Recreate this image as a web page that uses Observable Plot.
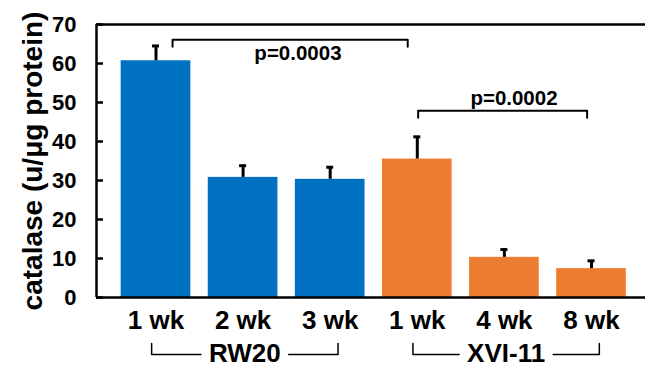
<!DOCTYPE html>
<html><head><meta charset="utf-8">
<script src="https://cdn.jsdelivr.net/npm/d3@7"></script>
<script src="https://cdn.jsdelivr.net/npm/@observablehq/plot@0.6"></script>
<style>
html,body{margin:0;padding:0;background:#fff;}
#chart svg{display:block;}
</style></head><body><div id="chart"></div>
<script>
// ---- data ----
const weeks = ["1 wk", "2 wk", "3 wk", "1 wk", "4 wk", "8 wk"];
const strains = ["RW20", "RW20", "RW20", "XVI-11", "XVI-11", "XVI-11"];
const catalase = [60.7, 30.8, 30.3, 35.5, 10.3, 7.4];
const errorTop = [64.5, 33.8, 33.4, 41.2, 12.3, 9.4];
const yTicks = [0, 10, 20, 30, 40, 50, 60, 70];
const groupNames = ["RW20", "XVI-11"];
const groupStart = [0, 3];
const groupEnd = [2, 5];
const groupColors = ["#0070C0", "#ED7D31"];
const pLabels = ["p=0.0003", "p=0.0002"];
const pFrom = [0.19, 3.01];
const pTo = [2.89, 4.95];
const pLevel = [66.1, 47.9];
const pLabelX = [1.63, 4.11];
const pLabelY = [62.7, 51.0];
const yTitle = "catalase (u/\u03bcg protein)";

// ---- layout ----
const W = 645, H = 367, mL = 96, mT = 24, mB = 70, mR = 0;
const xDomain = [-0.683, 5.62];
const pxPerUnit = (W - mL - mR) / (xDomain[1] - xDomain[0]);
const pxPerY = (H - mT - mB) / 70;
const FONT = "'Liberation Sans', Arial, Helvetica, sans-serif";

const bars = catalase.map((v, i) => ({i, v, hi: errorTop[i], strain: strains[i], week: weeks[i]}));

// p-value brackets
const pSeg = [];
pLabels.forEach((p, k) => {
  const drop = 7 / pxPerY;
  [[pFrom[k], pLevel[k] - drop], [pFrom[k], pLevel[k]], [pTo[k], pLevel[k]], [pTo[k], pLevel[k] - drop]]
    .forEach(([x, y]) => pSeg.push({k, x, y}));
});

// group brackets under axis
const ctx = document.createElement("canvas").getContext("2d");
ctx.font = `bold 26px ${FONT}`;
const gLineY = -(354 - (H - mB)) / pxPerY;
const gTickY = -(343 - (H - mB)) / pxPerY;
const gTextY = -(353 - (H - mB)) / pxPerY;
const gSeg = [], gText = [];
groupNames.forEach((g, k) => {
  const a = groupStart[k] - 0.05, b = groupEnd[k] + 0.09;
  const c = (a + b) / 2;
  const gap = (ctx.measureText(g).width / 2 + 8) / pxPerUnit;
  [[a, gTickY], [a, gLineY], [c - gap, gLineY]].forEach(([x, y]) => gSeg.push({z: g + "L", x, y}));
  [[c + gap, gLineY], [b, gLineY], [b, gTickY]].forEach(([x, y]) => gSeg.push({z: g + "R", x, y}));
  gText.push({x: c, y: gTextY, t: g});
});

const chart = Plot.plot({
  width: W, height: H,
  marginLeft: mL, marginRight: mR, marginTop: mT, marginBottom: mB,
  style: {fontFamily: FONT, color: "#000", background: "#fff"},
  x: {domain: xDomain},
  y: {domain: [0, 70]},
  color: {domain: groupNames, range: groupColors},
  marks: [
    Plot.rectY(bars, {x1: d => d.i - 0.4, x2: d => d.i + 0.4, y1: 0, y2: "v", fill: "strain"}),
    Plot.ruleX(bars, {x: "i", y1: "v", y2: "hi", stroke: "#000", strokeWidth: 3}),
    Plot.ruleY(bars, {y: "hi", x1: "i", x2: "i", insetLeft: -3.5, insetRight: -3.5, stroke: "#000", strokeWidth: 3}),
    // frame
    Plot.ruleY([0, 70], {stroke: "#000", strokeWidth: 2.5}),
    Plot.ruleX([xDomain[0]], {y1: 0, y2: 70, stroke: "#000", strokeWidth: 2.5}),
    Plot.ruleY(yTicks, {y: d => d, x1: xDomain[0], x2: xDomain[0], insetRight: -7, stroke: "#000", strokeWidth: 2.5}),
    Plot.axisY({ticks: yTicks, tickSize: 0, tickPadding: 20, fontSize: 22, fontWeight: "bold", label: null}),
    Plot.axisX({ticks: d3.range(weeks.length), tickFormat: i => weeks[i], tickSize: 0, tickPadding: 13, fontSize: 26, fontWeight: "bold", label: null}),
    Plot.text([yTitle], {frameAnchor: "left", textAnchor: "middle", rotate: -90, dx: -63, fontSize: 28, fontWeight: "bold", text: d => d, fill: "#000"}),
    // p brackets
    Plot.line(pSeg, {x: "x", y: "y", z: "k", stroke: "#000", strokeWidth: 2}),
    Plot.text(pLabels, {x: (d, k) => pLabelX[k], y: (d, k) => pLabelY[k], text: d => d, fontSize: 20.5, fontWeight: "bold", fill: "#000"}),
    // group brackets
    Plot.line(gSeg, {x: "x", y: "y", z: "z", stroke: "#000", strokeWidth: 1.5}),
    Plot.text(gText, {x: "x", y: "y", text: "t", fontSize: 26, fontWeight: "bold", fill: "#000"})
  ]
});
document.getElementById("chart").appendChild(chart);
</script>
</body></html>
